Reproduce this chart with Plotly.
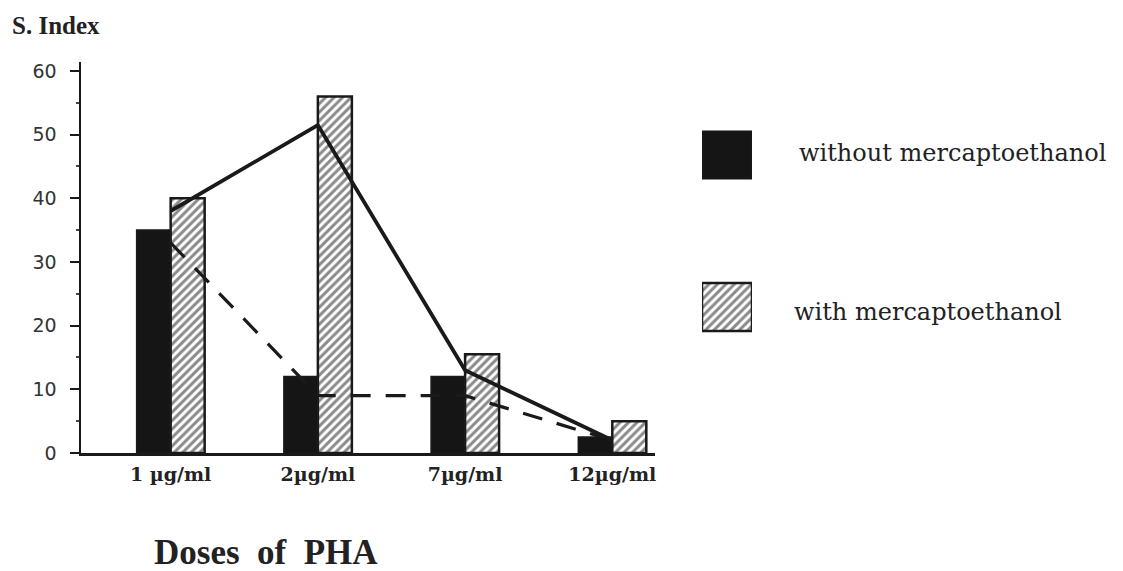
import plotly.graph_objects as go

# ---- data ----
doses = ["1 µg/ml", "2µg/ml", "7µg/ml", "12µg/ml"]
without_merc = [35, 12, 12, 2.5]
with_merc = [40, 56, 15.5, 5]
trend_with = [38, 51.5, 13, 2]
trend_without = [33, 9, 9, 2]
y_ticks = [0, 10, 20, 30, 40, 50, 60]
legend_names = ["with mercaptoethanol", "without mercaptoethanol"]

W, H = 1123, 571
ML, MR, MT, MB = 81, 0, 62, 118
PW = W - ML - MR
PH = H - MT - MB

def px_x(x):
    return (x - ML) / PW

def px_y(y):
    return (H - MB - y) / PH

INK = "#1a1a1a"
HATCH = dict(shape="/", fgcolor="#151515", bgcolor="white", size=6, solidity=0.5)

fig = go.Figure()

fig.add_trace(go.Bar(
    x=doses, y=without_merc, name=legend_names[1],
    marker=dict(color="#151515", line=dict(color=INK, width=1.5)),
))
fig.add_trace(go.Bar(
    x=doses, y=with_merc, name=legend_names[0],
    marker=dict(color="white", line=dict(color=INK, width=2.5), pattern=HATCH),
))
fig.add_trace(go.Scatter(
    x=doses, y=trend_without, mode="lines",
    line=dict(color=INK, width=3.2, dash="20px,15px"),
))
fig.add_trace(go.Scatter(
    x=doses, y=trend_with, mode="lines",
    line=dict(color=INK, width=3.8),
))

# legend keys drawn as bars on an inset axis
key_cats = legend_names
fig.add_trace(go.Bar(
    y=[key_cats[1]], x=[1], orientation="h", xaxis="x2", yaxis="y2",
    width=0.316, offset=-0.158,
    marker=dict(color="#151515", line=dict(color=INK, width=1)),
))
fig.add_trace(go.Bar(
    y=[key_cats[0]], x=[1], orientation="h", xaxis="x2", yaxis="y2",
    width=0.316, offset=-0.158,
    marker=dict(color="white", line=dict(color=INK, width=2.5), pattern=HATCH),
))

fig.update_layout(
    width=W, height=H,
    margin=dict(l=ML, r=MR, t=MT, b=MB, pad=0),
    paper_bgcolor="white", plot_bgcolor="white",
    showlegend=False,
    hovermode=False,
    barmode="group", bargap=0.538, bargroupgap=0,
    xaxis=dict(
        domain=[0, px_x(655)],
        type="category", range=[-0.609, 3.29],
        showgrid=False, zeroline=False,
        showline=True, linecolor=INK, linewidth=2.5,
        ticks="", ticklabelstandoff=3,
        tickfont=dict(family="DejaVu Serif", size=19, color="#222", weight="bold"),
    ),
    yaxis=dict(
        range=[0, 61.4],
        tickvals=y_ticks, ticktext=[str(v) for v in y_ticks],
        showgrid=False, zeroline=False,
        showline=True, linecolor=INK, linewidth=2.5,
        ticks="outside", ticklen=9, tickwidth=2, tickcolor=INK,
        ticklabelstandoff=9,
        minor=dict(dtick=5, tick0=0, ticks="outside", ticklen=3, tickwidth=2, tickcolor="#444"),
        tickfont=dict(family="DejaVu Sans", size=19, color="#333"),
    ),
    xaxis2=dict(domain=[px_x(702), px_x(752)], range=[0, 1], anchor="y2", visible=False),
    yaxis2=dict(domain=[px_y(383), px_y(79)], range=[-0.5, 1.5], anchor="x2", visible=False,
                type="category", categoryorder="array", categoryarray=key_cats),
    annotations=[
        dict(text="S. Index", xref="paper", yref="paper", x=px_x(10), y=px_y(25),
             xanchor="left", yanchor="middle", showarrow=False,
             font=dict(family="Liberation Serif", size=25, color="#222", weight="bold")),
        dict(text="Doses\u00a0 of\u00a0 PHA", xref="paper", yref="paper", x=px_x(266), y=px_y(552),
             xanchor="center", yanchor="middle", showarrow=False,
             font=dict(family="Liberation Serif", size=35, color="#222", weight="bold")),
        dict(text=legend_names[1], xref="paper", yref="paper", x=px_x(797), y=px_y(153),
             xanchor="left", yanchor="middle", showarrow=False,
             font=dict(family="DejaVu Serif", size=24, color="#222")),
        dict(text=legend_names[0], xref="paper", yref="paper", x=px_x(792), y=px_y(312),
             xanchor="left", yanchor="middle", showarrow=False,
             font=dict(family="DejaVu Serif", size=24, color="#222")),
    ],
)

fig.write_html(
    "out.html",
    config={"displayModeBar": False, "staticPlot": True},
    post_script=(
        "document.body.style.margin='0';"
        "document.documentElement.style.overflow='hidden';"
        "document.body.style.overflow='hidden';"
    ),
)
